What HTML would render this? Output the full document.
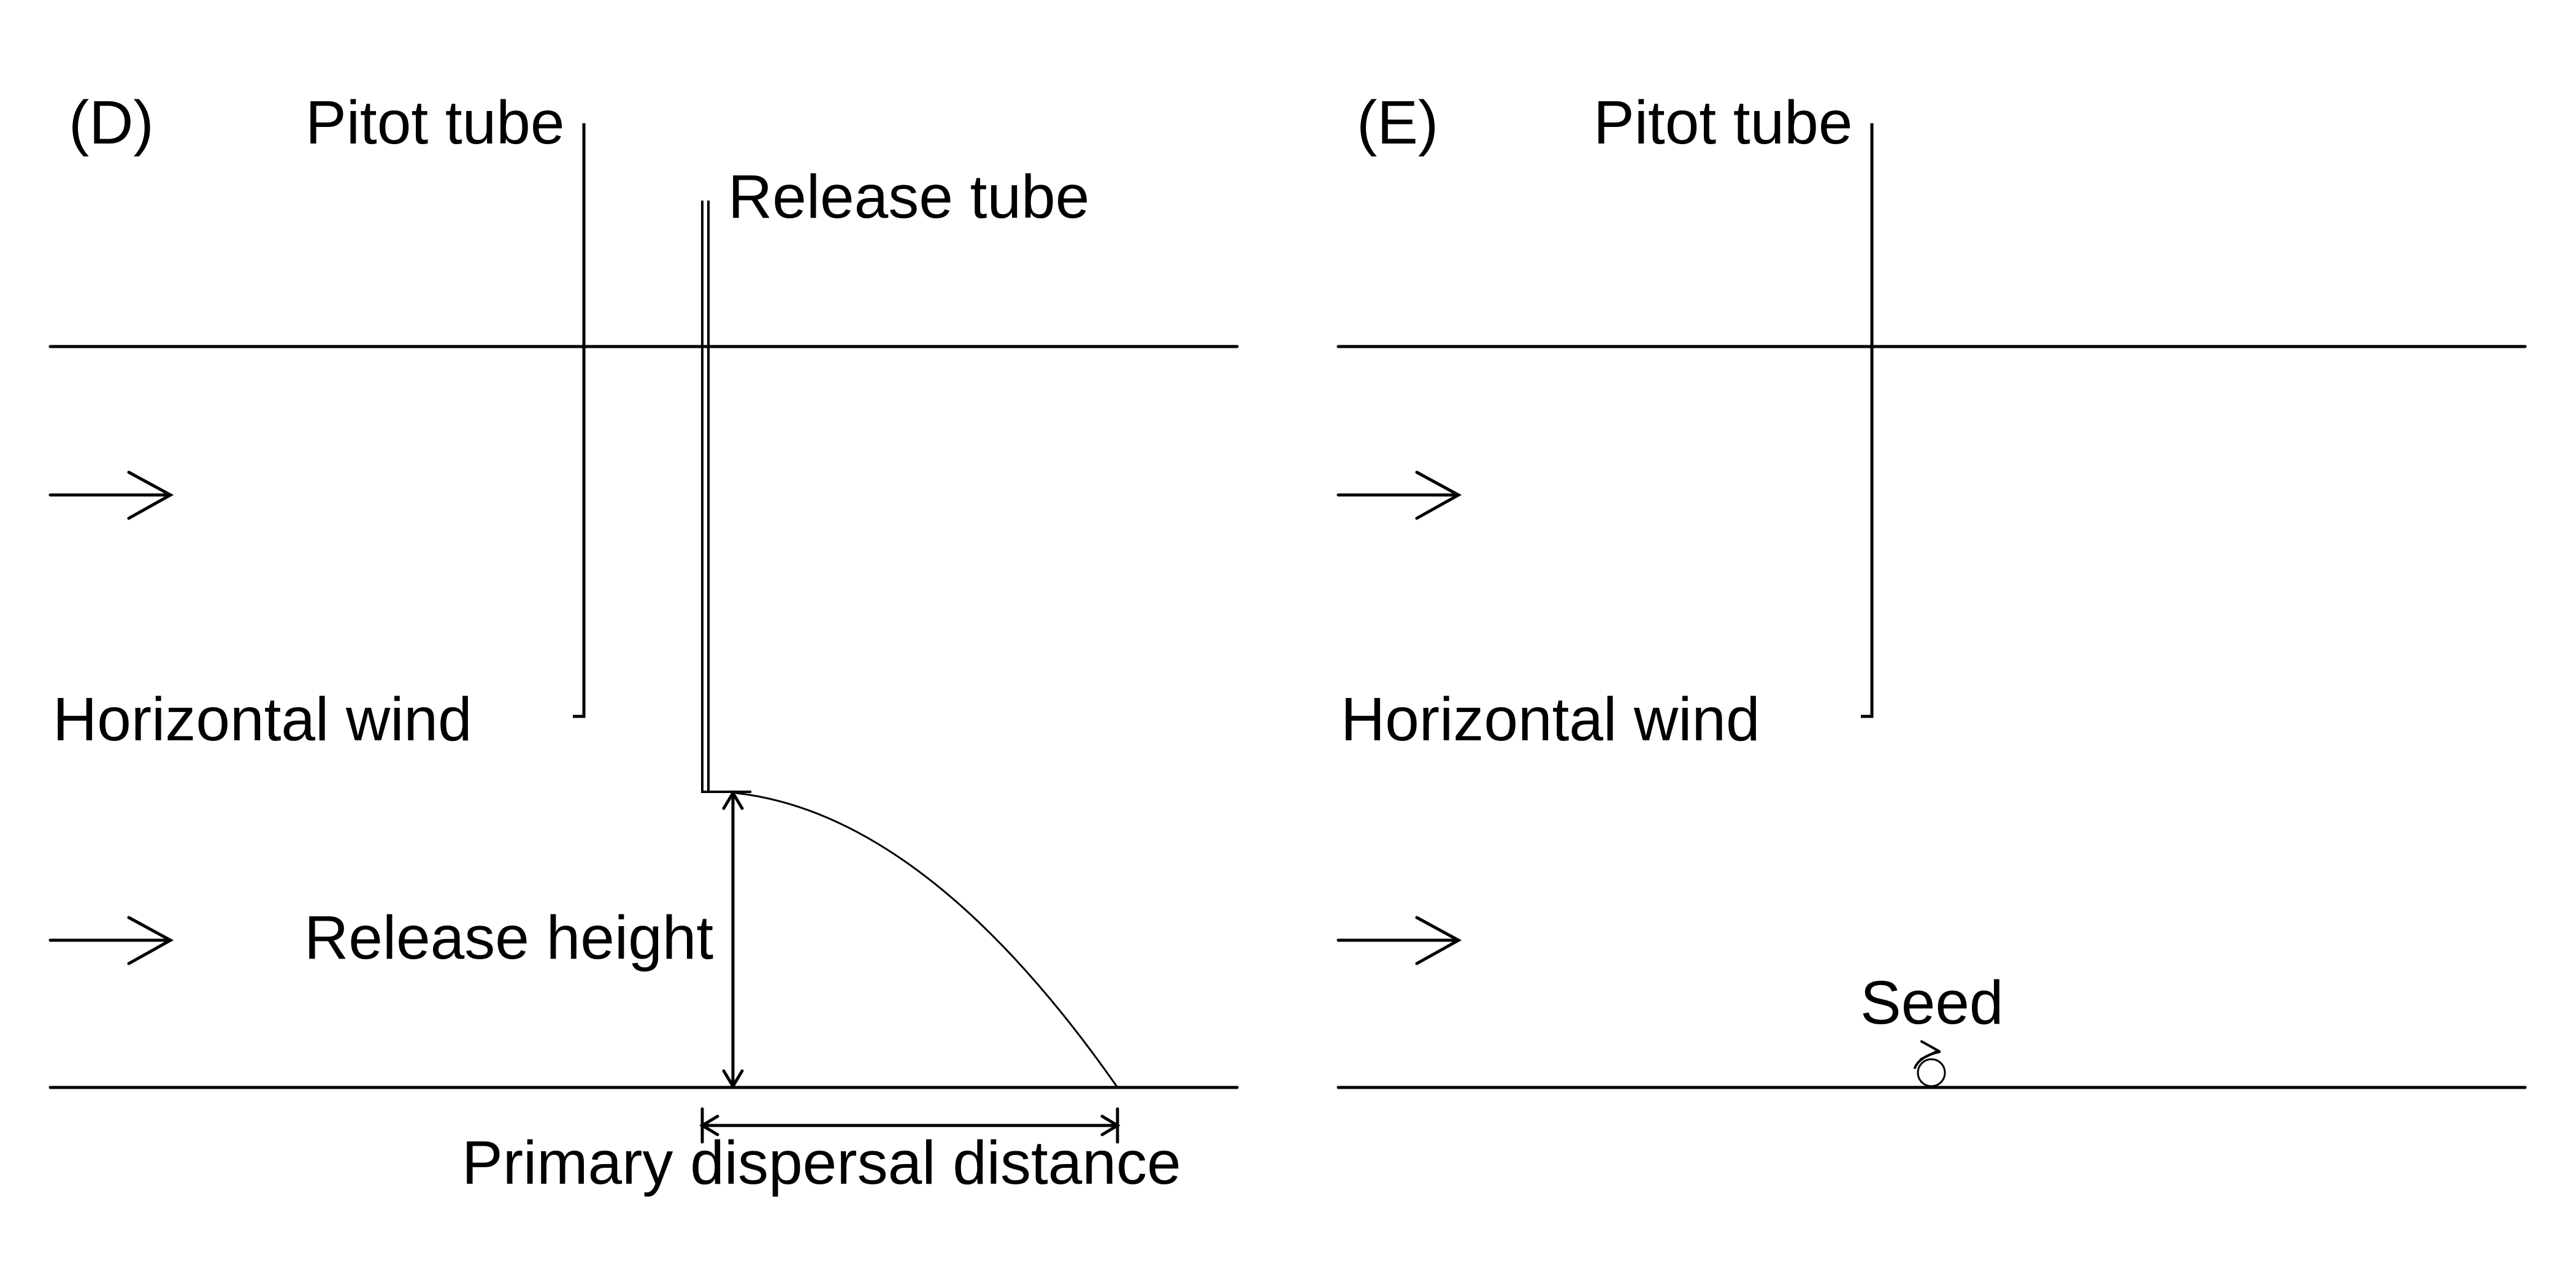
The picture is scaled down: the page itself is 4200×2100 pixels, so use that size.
<!DOCTYPE html>
<html><head><meta charset="utf-8"><style>
html,body{margin:0;padding:0;background:#fff;}
svg{display:block;}
text{font-family:"Liberation Sans",Arial,sans-serif;font-size:100px;fill:#000;}
</style></head><body>
<svg width="4200" height="2100" viewBox="0 0 4200 2100" xmlns="http://www.w3.org/2000/svg">
<g id="panelD" stroke="#000" fill="none" stroke-linecap="round">
  <line x1="82" y1="565" x2="2017" y2="565" stroke-width="5"/>
  <line x1="82" y1="1773" x2="2017" y2="1773" stroke-width="5"/>
  <path d="M82 807 H278 M210 770 L278 807 L210 845" stroke-width="5"/>
  <path d="M82 1533 H278 M210 1496 L278 1533 L210 1571" stroke-width="5"/>
  <path d="M952 201 V1168 H934" stroke-width="5" stroke-linecap="butt"/>
  <path d="M1145 327 V1291 H1225 M1155 327 V1291" stroke-width="4" stroke-linecap="butt"/>
  <path d="M1195 1293 V1771 M1180 1318 L1195 1293 L1210 1318 M1180 1746 L1195 1771 L1210 1746" stroke-width="5"/>
  <path d="M1200 1293 Q1511 1328 1822 1773" stroke-width="3"/>
  <path d="M1145 1835 H1822 M1145 1808 V1862 M1822 1808 V1862 M1170 1820 L1145 1835 L1170 1850 M1797 1820 L1822 1835 L1797 1850" stroke-width="5"/>
</g>
<g>
  <text x="112" y="234">(D)</text>
  <text x="498" y="234">Pitot tube</text>
  <text x="1187" y="355">Release tube</text>
  <text x="86" y="1207">Horizontal wind</text>
  <text x="496" y="1563">Release height</text>
  <text x="753" y="1930">Primary dispersal distance</text>
</g>
<g transform="translate(2100,0)">
  <g stroke="#000" fill="none" stroke-linecap="round">
    <line x1="82" y1="565" x2="2017" y2="565" stroke-width="5"/>
    <line x1="82" y1="1773" x2="2017" y2="1773" stroke-width="5"/>
    <path d="M82 807 H278 M210 770 L278 807 L210 845" stroke-width="5"/>
    <path d="M82 1533 H278 M210 1496 L278 1533 L210 1571" stroke-width="5"/>
    <path d="M952 201 V1168 H934" stroke-width="5" stroke-linecap="butt"/>
    <circle cx="1049" cy="1749" r="22" stroke-width="3"/>
    <path d="M1022 1741 Q1030 1722 1062 1715 M1033 1698 L1060 1713 L1032 1727" stroke-width="4"/>
  </g>
  <text x="112" y="234">(E)</text>
  <text x="498" y="234">Pitot tube</text>
  <text x="86" y="1207">Horizontal wind</text>
  <text x="933" y="1669">Seed</text>
</g>
</svg>
</body></html>
